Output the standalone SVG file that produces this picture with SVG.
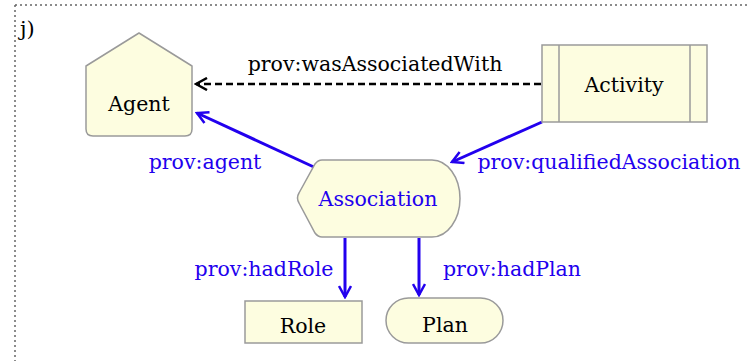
<svg xmlns="http://www.w3.org/2000/svg" width="750" height="361" viewBox="0 0 750 361">
<style>
.node{fill:#fdfde0;stroke:#9a9a9a;stroke-width:1.5}
.t{font-family:"DejaVu Serif",serif;font-size:20.5px;text-anchor:middle}
.k{fill:#000}
.b{fill:#2200ee}
.e{fill:none;stroke:#2200ee;stroke-width:3}
.d{fill:none;stroke:#000;stroke-width:2.5;stroke-dasharray:7,4}
</style>
<defs>
<marker id="ab" viewBox="0 0 14 14" refX="12" refY="7" markerWidth="14" markerHeight="14" markerUnits="userSpaceOnUse" orient="auto"><path d="M1,1 L12,7 L1,13" fill="none" stroke="#2200ee" stroke-width="2.5"/></marker>
<marker id="ak" viewBox="0 0 14 14" refX="12" refY="7" markerWidth="14" markerHeight="14" markerUnits="userSpaceOnUse" orient="auto"><path d="M1,1 L12,7 L1,13" fill="none" stroke="#000" stroke-width="2.5"/></marker>
</defs>
<path d="M15,5 H750 M15,5 V361" fill="none" stroke="#666" stroke-width="1.5" stroke-dasharray="2,3"/>
<text x="20" y="36" class="t k" style="text-anchor:start;font-size:21px">j)</text>
<g id="connectors">
<path class="d" d="M541,84 H196" marker-end="url(#ak)"/>
<text x="375" y="71" class="t k">prov:wasAssociatedWith</text>
<path class="e" d="M316,168 L197,113" marker-end="url(#ab)"/>
<text x="205" y="169" class="t b">prov:agent</text>
<path class="e" d="M542,122 L452,162" marker-end="url(#ab)"/>
<text x="609" y="169" class="t b">prov:qualifiedAssociation</text>
<path class="e" d="M345,238 V297" marker-end="url(#ab)"/>
<text x="264" y="276" class="t b">prov:hadRole</text>
<path class="e" d="M419,238 V295" marker-end="url(#ab)"/>
<text x="512" y="276" class="t b">prov:hadPlan</text>
</g>
<g id="agent">
<path class="node" d="M139,33 L192,66 V129 Q192,136 185,136 H93 Q86,136 86,129 V66 Z" stroke-linejoin="round"/>
<text x="139" y="111" class="t k">Agent</text>
</g>
<g id="activity">
<rect class="node" x="542" y="45" width="165" height="77"/>
<path d="M559,45 V122 M690,45 V122" stroke="#9a9a9a" stroke-width="1.5"/>
<text x="624" y="92" class="t k">Activity</text>
</g>
<g id="association">
<path class="node" d="M322,160 H432 A28,38.5 0 0 1 432,237 H322 Q318,237 315,233 L299,203 Q296,198 299,193 L315,164 Q318,160 322,160 Z"/>
<text x="378" y="206" class="t b">Association</text>
</g>
<g id="role">
<rect class="node" x="245" y="301" width="117" height="42"/>
<text x="303" y="333" class="t k">Role</text>
</g>
<g id="plan">
<rect class="node" x="386" y="298" width="117" height="45" rx="22.5"/>
<text x="445" y="332" class="t k">Plan</text>
</g>
</svg>
